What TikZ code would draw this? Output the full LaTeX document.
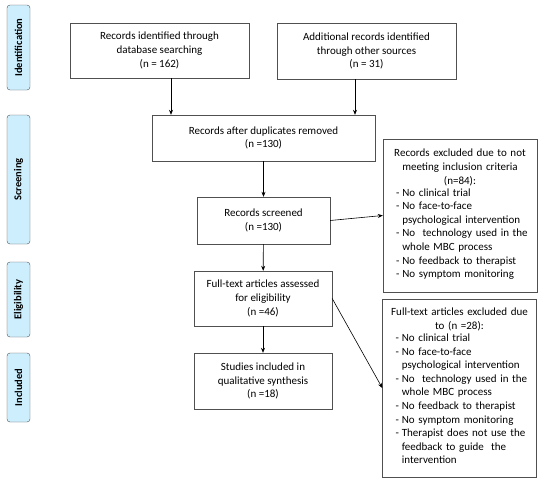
\documentclass[tikz,border=0pt]{standalone}
\usepackage{xcolor}
\usepackage{fontspec}
\setmainfont{Carlito}
\usetikzlibrary{shapes, arrows.meta, positioning}

\definecolor{phaseblue}{RGB}{205,238,252}
\definecolor{edgegray}{RGB}{80,80,80}

\begin{document}
\begin{tikzpicture}[x=1pt, y=-1pt, font=\fontsize{11}{13.6}\selectfont,
            box/.style={draw=edgegray, rectangle, align=center, inner sep=2pt},
            exbox/.style={draw=edgegray, rectangle, inner xsep=5pt, text width=144pt, anchor=center},
            phase/.style={draw=edgegray, rectangle, rounded corners=3pt, fill=phaseblue, rotate=90,
                minimum height=23pt, inner sep=0pt, font=\fontsize{10.5}{12}\selectfont\bfseries},
            arr/.style={-{Stealth[length=5pt, width=4pt]}, semithick, black}]
            \useasboundingbox (0,0) rectangle (550,485);

            % phase labels
            \node[phase, minimum width=85pt] (ident) at (18.5,47.5) {Identification};
            \node[phase, minimum width=129pt] (screen) at (18.5,179.5) {Screening};
            \node[phase, minimum width=75pt] (elig) at (18.5,299.5) {Eligibility};
            \node[phase, minimum width=69pt] (incl) at (18.5,387.5) {Included};

            % flow boxes
            \node[box, minimum width=179pt, minimum height=55pt] (db) at (159.5,50.5)
                {Records identified through\\ database searching\\ (n = 162)};
            \node[box, minimum width=179pt, minimum height=56pt] (other) at (366.5,51)
                {Additional records identified\\ through other sources\\ (n = 31)};
            \node[box, minimum width=223pt, minimum height=46pt] (dup) at (263.5,138)
                {Records after duplicates removed\\ (n =130)};
            \node[box, minimum width=133pt, minimum height=47pt] (scr) at (263.5,220.5)
                {Records screened\\ (n =130)};
            \node[box, minimum width=138pt, minimum height=55pt] (full) at (263,298.5)
                {Full-text articles assessed\\ for eligibility\\ (n =46)};
            \node[box, minimum width=138pt, minimum height=56pt] (final) at (263,381)
                {Studies included in\\ qualitative synthesis\\ (n =18)};

            % exclusion boxes
            \node[exbox, minimum height=153pt] (ex1) at (460,215.5)
                {\centering Records excluded due to not\\ meeting inclusion criteria\\ (n=84):\par
                \raggedright\hspace*{8pt}\begin{tabular}{@{}l@{\hspace{3pt}}l@{}}
                - & No clinical trial\\
                - & No face-to-face\\
                  & psychological intervention\\
                - & No\ \ technology used in the\\
                  & whole MBC process\\
                - & No feedback to therapist\\
                - & No symptom monitoring
                \end{tabular}\par};
            \node[exbox, minimum height=178pt] (ex2) at (459.5,388)
                {\centering Full-text articles excluded due\\ to (n =28):\par
                \raggedright\hspace*{8pt}\begin{tabular}{@{}l@{\hspace{3pt}}l@{}}
                - & No clinical trial\\
                - & No face-to-face\\
                  & psychological intervention\\
                - & No\ \ technology used in the\\
                  & whole MBC process\\
                - & No feedback to therapist\\
                - & No symptom monitoring\\
                - & Therapist does not use the\\
                  & feedback to guide\ \ the\\
                  & intervention
                \end{tabular}\par};

            % arrows
            \draw[arr] ([xshift=11.5pt]db.south) -- ([xshift=11.5pt]db.south |- dup.north);
            \draw[arr] ([xshift=-11.5pt]other.south) -- ([xshift=-11.5pt]other.south |- dup.north);
            \draw[arr] (dup) -- (scr);
            \draw[arr] (scr) -- (full);
            \draw[arr] (full) -- (final);
            \draw[arr] (scr.east) -- (ex1.west);
            \draw[arr] (full.east) -- (ex2.west);
        \end{tikzpicture}
\end{document}
